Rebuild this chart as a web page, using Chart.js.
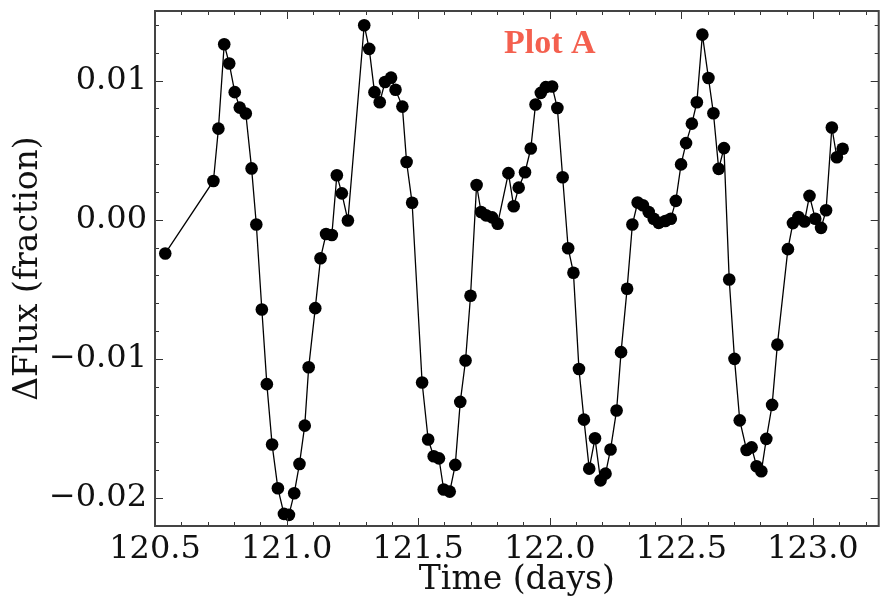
<!DOCTYPE html>
<html>
<head>
<meta charset="utf-8">
<script src="https://cdn.jsdelivr.net/npm/chart.js@4.4.1/dist/chart.umd.min.js"></script>
<style>
  html, body { margin: 0; padding: 0; background: #fff; }
  #wrap { width: 885px; height: 600px; }
</style>
</head>
<body>
<div id="wrap"><canvas id="fluxChart" width="885" height="600"></canvas></div>
<script>
// --- data (time in days, relative flux change) ---
const timeDays = [
  120.539, 120.722, 120.741, 120.763, 120.782, 120.803, 120.822, 120.845, 120.867, 120.885,
  120.906, 120.925, 120.945, 120.967, 120.990, 121.009, 121.029, 121.049, 121.069, 121.084,
  121.109, 121.129, 121.150, 121.172, 121.191, 121.210, 121.233, 121.295, 121.314, 121.334,
  121.354, 121.374, 121.397, 121.414, 121.440, 121.456, 121.477, 121.515, 121.538, 121.559,
  121.579, 121.597, 121.620, 121.641, 121.660, 121.680, 121.699, 121.722, 121.739, 121.758,
  121.781, 121.802, 121.843, 121.863, 121.882, 121.906, 121.928, 121.946, 121.966, 121.985,
  122.009, 122.029, 122.049, 122.070, 122.090, 122.111, 122.130, 122.150, 122.172, 122.193,
  122.212, 122.231, 122.254, 122.271, 122.294, 122.314, 122.334, 122.354, 122.376, 122.395,
  122.414, 122.439, 122.460, 122.479, 122.499, 122.518, 122.540, 122.559, 122.580, 122.603,
  122.622, 122.642, 122.662, 122.682, 122.702, 122.722, 122.748, 122.767, 122.786, 122.804,
  122.823, 122.845, 122.865, 122.905, 122.924, 122.945, 122.968, 122.987, 123.009, 123.031,
  123.050, 123.072, 123.091, 123.113
];
const deltaFlux = [
  -0.00242, 0.00279, 0.00655, 0.01261, 0.01123, 0.00917, 0.00806, 0.00764, 0.00369, -0.00034,
  -0.00645, -0.01181, -0.01615, -0.01929, -0.02113, -0.02120, -0.01965, -0.01754, -0.01479, -0.01060,
  -0.00635, -0.00276, -0.00102, -0.00109, 0.00320, 0.00190, -0.00005, 0.01398, 0.01228, 0.00917,
  0.00844, 0.00990, 0.01021, 0.00934, 0.00813, 0.00415, 0.00122, -0.01169, -0.01579, -0.01699,
  -0.01714, -0.01938, -0.01953, -0.01761, -0.01308, -0.01011, -0.00546, 0.00250, 0.00056, 0.00032,
  0.00017, -0.00029, 0.00335, 0.00097, 0.00231, 0.00342, 0.00512, 0.00828, 0.00912, 0.00953,
  0.00958, 0.00803, 0.00306, -0.00204, -0.00380, -0.01072, -0.01436, -0.01788, -0.01570, -0.01872,
  -0.01824, -0.01650, -0.01370, -0.00951, -0.00495, -0.00034, 0.00124, 0.00104, 0.00056, 0.00007,
  -0.00022, -0.00009, 0.00007, 0.00136, 0.00398, 0.00551, 0.00691, 0.00844, 0.01330, 0.01019,
  0.00765, 0.00366, 0.00515, -0.00429, -0.00999, -0.01441, -0.01654, -0.01635, -0.01771, -0.01807,
  -0.01574, -0.01330, -0.00897, -0.00211, -0.00024, 0.00020, -0.00012, 0.00172, 0.00007, -0.00058,
  0.00068, 0.00663, 0.00449, 0.00510
];

// axis ticks and limits
const xTickValues = [120.5, 121.0, 121.5, 122.0, 122.5, 123.0];
const yTickValues = [-0.02, -0.01, 0.0, 0.01];
const xLimits = [120.5, 123.25];
const yLimits = [-0.022, 0.015];
const xMinorStep = 0.1;
const yMinorStep = 0.002;

const panelLabel = "Plot A";
const panelLabelAt = [122.0, 0.0126];

const serif = "'DejaVu Serif', serif";

const points = timeDays.map((t, i) => ({ x: t, y: deltaFlux[i] }));

function fmtY(v) {
  const s = Math.abs(v).toFixed(2);
  return v < -1e-9 ? "\u2212" + s : s;
}

// frame + matplotlib style inward ticks on all 4 sides
const frameTicks = {
  id: "frameTicks",
  afterDatasetsDraw(chart) {
    const { ctx, chartArea: a, scales } = chart;
    const x = scales.x, y = scales.y;
    ctx.save();
    ctx.strokeStyle = "#333";
    ctx.lineWidth = 1;
    ctx.beginPath();
    const n0 = Math.ceil(xLimits[0] / xMinorStep - 1e-6);
    const n1 = Math.floor(xLimits[1] / xMinorStep + 1e-6);
    for (let n = n0; n <= n1; n++) {
      const v = n * xMinorStep;
      const major = xTickValues.some(t => Math.abs(t - v) < 1e-6);
      const len = major ? 8 : 4;
      const px = Math.round(x.getPixelForValue(v)) + 0.5;
      ctx.moveTo(px, a.bottom); ctx.lineTo(px, a.bottom - len);
      ctx.moveTo(px, a.top); ctx.lineTo(px, a.top + len);
    }
    const m0 = Math.ceil(yLimits[0] / yMinorStep - 1e-6);
    const m1 = Math.floor(yLimits[1] / yMinorStep + 1e-6);
    for (let m = m0; m <= m1; m++) {
      const v = m * yMinorStep;
      const major = yTickValues.some(t => Math.abs(t - v) < 1e-6);
      const len = major ? 8 : 4;
      const py = Math.round(y.getPixelForValue(v)) + 0.5;
      ctx.moveTo(a.left, py); ctx.lineTo(a.left + len, py);
      ctx.moveTo(a.right, py); ctx.lineTo(a.right - len, py);
    }
    ctx.stroke();
    ctx.lineWidth = 2;
    ctx.strokeStyle = "#444";
    ctx.strokeRect(a.left, a.top, a.right - a.left, a.bottom - a.top);

    ctx.fillStyle = "#f4604f";
    ctx.font = "bold 34px 'Liberation Serif', serif";
    ctx.textAlign = "center";
    ctx.textBaseline = "middle";
    ctx.fillText(panelLabel, x.getPixelForValue(panelLabelAt[0]), y.getPixelForValue(panelLabelAt[1]));
    ctx.restore();
  }
};

new Chart(document.getElementById("fluxChart"), {
  type: "scatter",
  data: {
    datasets: [{
      data: points,
      showLine: true,
      borderColor: "#000",
      borderWidth: 1.3,
      pointRadius: 6.3,
      pointHoverRadius: 6.3,
      pointBackgroundColor: "#000",
      pointBorderWidth: 0,
      tension: 0
    }]
  },
  options: {
    responsive: false,
    animation: false,
    layout: { padding: { top: 11, right: 3, left: 0, bottom: 0 } },
    plugins: { legend: { display: false }, tooltip: { enabled: false } },
    scales: {
      x: {
        type: "linear",
        min: xLimits[0],
        max: xLimits[1],
        grid: { display: false, drawTicks: false },
        border: { display: false },
        afterBuildTicks: s => { s.ticks = xTickValues.map(v => ({ value: v })); },
        afterFit: s => { s.height = 74; s.paddingLeft = 0; s.paddingRight = 0; },
        ticks: {
          color: "#111",
          padding: 4,
          maxRotation: 0,
          font: { family: serif, size: 32 },
          callback: v => Number(v).toFixed(1)
        },
        title: {
          display: true,
          text: "Time (days)",
          color: "#111",
          font: { family: serif, size: 33 },
          padding: { top: 0, bottom: 0 }
        }
      },
      y: {
        min: yLimits[0],
        max: yLimits[1],
        grid: { display: false, drawTicks: false },
        border: { display: false },
        afterBuildTicks: s => { s.ticks = yTickValues.map(v => ({ value: v })); },
        afterFit: s => { s.width = 155; s.paddingTop = 0; s.paddingBottom = 0; },
        ticks: {
          color: "#111",
          padding: 8,
          font: { family: serif, size: 32 },
          callback: v => fmtY(v)
        },
        title: {
          display: true,
          text: "\u0394Flux (fraction)",
          color: "#111",
          font: { family: serif, size: 33 },
          padding: { top: 9, bottom: 0 }
        }
      }
    }
  },
  plugins: [frameTicks]
});
</script>
</body>
</html>
